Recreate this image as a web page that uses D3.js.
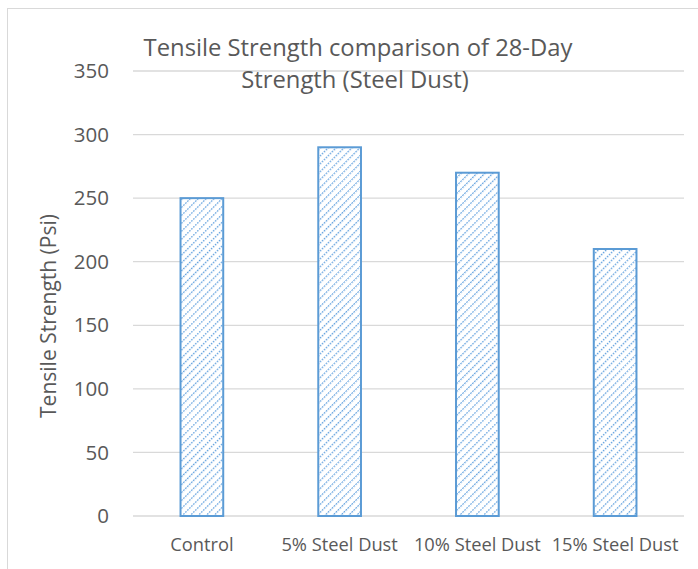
<!DOCTYPE html>
<html>
<head>
<meta charset="utf-8">
<script src="https://cdn.jsdelivr.net/npm/d3@7"></script>
<style>
  body { margin: 0; background: #fff; }
  text { font-family: "Open Sans", sans-serif; fill: #595959; }
</style>
</head>
<body>
<div id="chart"></div>
<script>
var categories = ["Control", "5% Steel Dust", "10% Steel Dust", "15% Steel Dust"];
var values = [250, 290, 270, 210];
var yTicks = [0, 50, 100, 150, 200, 250, 300, 350];

(function() {
  var width = 698, height = 569;
  var plotLeft = 133, plotRight = 684, plotTop = 71, plotBottom = 516;

  var svg = d3.select("#chart").append("svg")
      .attr("width", width)
      .attr("height", height);

  // outer chart border
  svg.append("rect")
      .attr("x", 7.5).attr("y", 8.5)
      .attr("width", 700).attr("height", 600)
      .attr("fill", "none").attr("stroke", "#d9d9d9");

  var pattern = svg.append("defs").append("pattern")
      .attr("id", "hatch")
      .attr("patternUnits", "userSpaceOnUse")
      .attr("width", 5.6).attr("height", 5.6)
      .attr("patternTransform", "rotate(45)");
  pattern.append("rect").attr("width", 5.6).attr("height", 5.6).attr("fill", "#fff");
  pattern.append("line")
      .attr("x1", 0).attr("y1", 0).attr("x2", 0).attr("y2", 5.6)
      .attr("stroke", "#6aa6e0").attr("stroke-width", 2.4)
      .attr("stroke-dasharray", "1.8,1");

  var x = d3.scaleBand()
      .domain(categories)
      .range([plotLeft, plotRight])
      .paddingInner(0.69)
      .paddingOuter(0.345);

  var y = d3.scaleLinear()
      .domain([0, 350])
      .range([plotBottom, plotTop]);

  // gridlines
  svg.append("g").selectAll("line")
      .data(yTicks)
      .enter().append("line")
      .attr("x1", plotLeft).attr("x2", plotRight)
      .attr("y1", function(d) { return y(d); })
      .attr("y2", function(d) { return y(d); })
      .attr("stroke", "#d9d9d9").attr("stroke-width", 1.3);

  // y tick labels
  svg.append("g").selectAll("text")
      .data(yTicks)
      .enter().append("text")
      .attr("x", 109)
      .attr("y", function(d) { return y(d); })
      .attr("dy", "0.35em")
      .attr("text-anchor", "end")
      .style("font-size", "20.5px")
      .text(function(d) { return d; });

  // bars
  svg.append("g").selectAll("rect")
      .data(values)
      .enter().append("rect")
      .attr("x", function(d, i) { return x(categories[i]); })
      .attr("y", function(d) { return y(d); })
      .attr("width", x.bandwidth())
      .attr("height", function(d) { return y(0) - y(d); })
      .attr("fill", "url(#hatch)")
      .attr("stroke", "#5b9bd5")
      .attr("stroke-width", 2);

  // x labels
  svg.append("g").selectAll("text")
      .data(categories)
      .enter().append("text")
      .attr("x", function(d) { return x(d) + x.bandwidth() / 2; })
      .attr("y", 551)
      .attr("text-anchor", "middle")
      .style("font-size", "18.3px")
      .text(function(d) { return d; });

  // title
  svg.append("text")
      .attr("x", 358).attr("y", 56)
      .attr("text-anchor", "middle")
      .style("font-size", "23.8px")
      .text("Tensile Strength comparison of 28-Day");
  svg.append("text")
      .attr("x", 355).attr("y", 88)
      .attr("text-anchor", "middle")
      .style("font-size", "23.8px")
      .text("Strength (Steel Dust)");

  // y axis title
  svg.append("text")
      .attr("transform", "translate(56,316) rotate(-90)")
      .attr("text-anchor", "middle")
      .style("font-size", "21px")
      .text("Tensile Strength (Psi)");
})();
</script>
</body>
</html>
